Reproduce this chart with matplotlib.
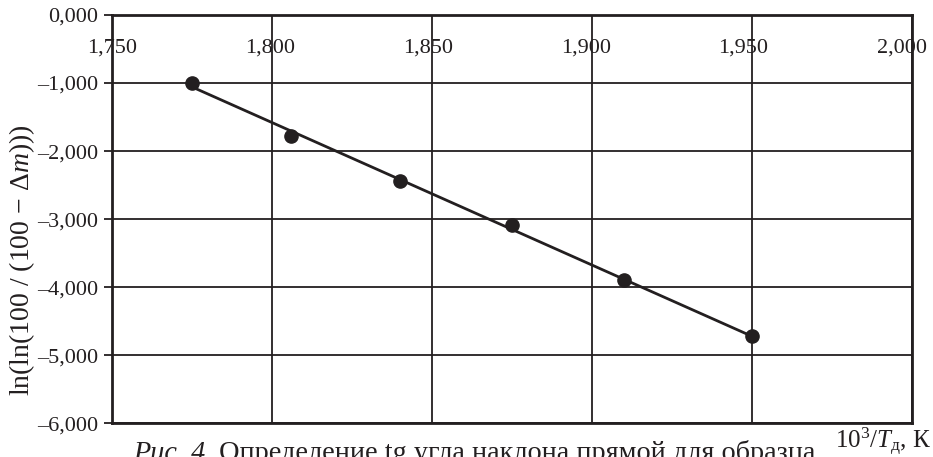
import matplotlib
matplotlib.use("Agg")
import matplotlib.pyplot as plt
import matplotlib.transforms as mtransforms
import numpy as np

plt.rcParams['font.family'] = ['Liberation Serif', 'DejaVu Serif']
plt.rcParams['mathtext.fontset'] = 'custom'
plt.rcParams['mathtext.rm'] = 'Liberation Serif'
plt.rcParams['mathtext.it'] = 'Liberation Serif:italic'

# measured points: 10^3/T vs ln(ln(100/(100 - dm)))
inv_t = [1.775, 1.806, 1.840, 1.875, 1.910, 1.950]
ln_ln = [-1.00, -1.78, -2.44, -3.09, -3.90, -4.72]

x_ticks = [1.75, 1.80, 1.85, 1.90, 1.95, 2.00]
x_labels = ['1,750', '1,800', '1,850', '1,900', '1,950', '2,000']
y_ticks = [0, -1, -2, -3, -4, -5, -6]
y_labels = ['0,000', '–1,000', '–2,000', '–3,000', '–4,000', '–5,000', '–6,000']

ink = '#231f20'
fs = 16

fig = plt.figure(figsize=(9.33, 4.57), dpi=100)
ax = fig.add_axes([0.1197, 0.0737, 0.8578, 0.8935])

# least squares line through the points
k, b = np.polyfit(inv_t, ln_ln, 1)
xx = np.array([inv_t[0], inv_t[-1]])
ax.plot(xx, k * xx + b, color=ink, lw=2.0, zorder=3)
ax.plot(inv_t, ln_ln, 'o', color=ink, ms=9.5, zorder=4)

ax.set_xlim(1.75, 2.0)
ax.set_ylim(-6, 0)
ax.set_xticks(x_ticks)
ax.set_yticks(y_ticks)
ax.set_yticklabels(y_labels, fontsize=fs, color=ink)
ax.tick_params(axis='x', bottom=False, labelbottom=False)
ax.tick_params(axis='y', direction='out', length=6, width=1.3, color=ink, pad=4)
ax.grid(True, color=ink, lw=1.3)
for s in ax.spines.values():
    s.set_linewidth(2.0)
    s.set_color(ink)

# x tick labels sit inside the frame, under the top edge,
# drifting slightly left so the last one stays on the page
base = ax.get_xaxis_transform()
for i, (xt, lab) in enumerate(zip(x_ticks, x_labels)):
    shift = mtransforms.offset_copy(base, fig=fig, x=-1.5 * i, units='points')
    ax.text(xt, 0.907, lab, transform=shift, ha='center',
            va='baseline', fontsize=fs, color=ink, zorder=5)

fig.text(22 / 933, 1 - 260 / 457, r'ln(ln(100 / (100 $-$ Δ$m$)))', rotation=90,
         ha='center', va='center', fontsize=20, color=ink)

fig.text(931 / 933, 1 - 448 / 457, r'$10^3/T_{\mathrm{д}}$, К', ha='right',
         va='baseline', fontsize=18, color=ink)

cap = fig.text(133 / 933, -3 / 457, 'Рис. 4.', style='italic', ha='left',
               va='baseline', fontsize=20.3, color=ink)
ax.annotate(' Определение tg угла наклона прямой для образца', xy=(1, 0),
            xycoords=cap, ha='left', va='bottom', fontsize=20.3, color=ink,
            annotation_clip=False)

fig.savefig('out.png', dpi=100)
